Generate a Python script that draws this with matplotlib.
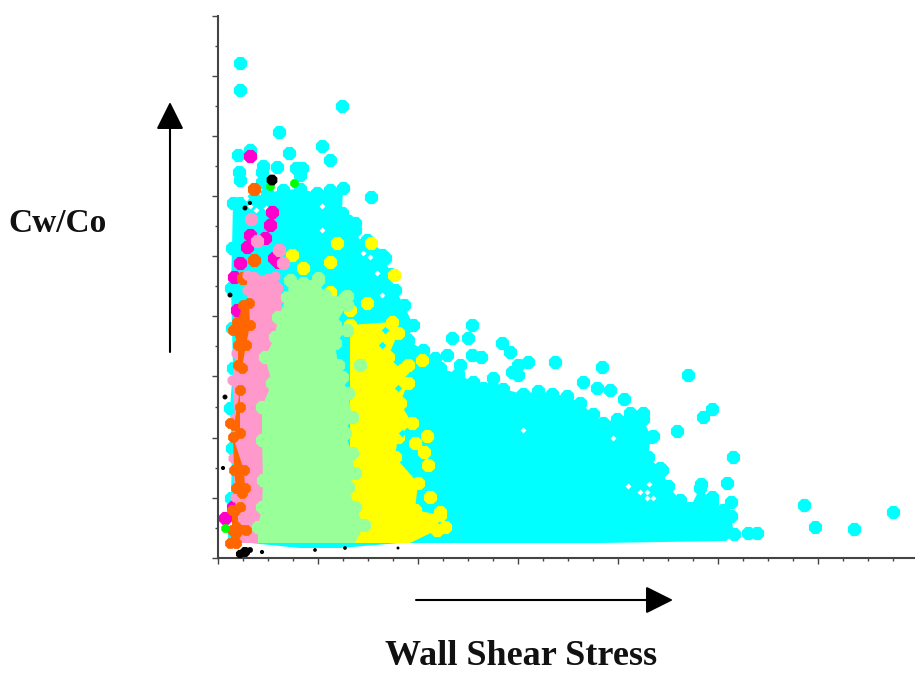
import matplotlib
matplotlib.use("Agg")
import matplotlib.pyplot as plt

# axis units are arbitrary, the original has no readable tick labels
cyan_x = [16, 13, 14, 12, 15, 14, 13, 14, 15, 22, 36, 49, 65, 82, 99, 112, 125, 124, 130, 137, 144, 155, 167, 172, 177, 186, 195, 190,
          205, 217, 222, 240, 255, 265, 275, 285, 305, 320, 334, 349, 362, 375, 385, 399, 412, 425, 433, 430, 444, 450, 462, 472, 482,
          494, 505, 513, 516, 508, 382, 282, 182, 122, 82, 32]
cyan_y = [22, 60, 110, 150, 190, 230, 270, 310, 355, 355, 360, 365, 368, 369, 365, 368, 370, 345, 337, 328, 313, 306, 300, 284, 268, 253, 233, 218,
          208, 200, 190, 184, 176, 170, 180, 169, 164, 167, 164, 162, 155, 144, 135, 139, 145, 139, 121, 101, 88, 72, 58, 50, 70,
          56, 48, 42, 24, 17, 15, 15, 15, 10, 10, 15]
CYAN_BOTTOM = 7
cyan_pts_x = [22, 22, 124, 61, 104, 112, 20, 32, 71, 21, 45, 59, 78, 44, 84, 153, 137, 82, 22, 44, 149, 164,
              234, 254, 250, 229, 284, 292, 254, 263, 242, 337, 310, 300, 294, 300, 384, 365, 379, 392, 406,
              470, 494, 485, 459, 515, 509, 513, 483, 494, 586, 597, 636, 675, 530, 539, 442, 425, 435]
cyan_pts_y = [495, 468, 452, 426, 412, 398, 403, 408, 405, 386, 392, 391, 390, 386, 390, 361, 335, 383, 378, 376, 318, 303,
              220, 233, 220, 203, 215, 206, 203, 201, 193, 196, 196, 193, 186, 183, 191, 176, 170, 168, 159,
              183, 149, 141, 127, 101, 75, 56, 74, 61, 53, 31, 29, 46, 25, 25, 90, 145, 122]

gap_x = [104, 104, 145, 152, 159, 164, 32, 28, 38, 48, 305, 372, 395, 410, 429, 429, 431, 422, 435, 441]
gap_y = [352, 328, 305, 301, 285, 263, 352, 360, 348, 350, 128, 160, 120, 72, 66, 60, 74, 66, 60, 110]

magenta_x = [32, 54, 52, 32, 47, 29, 22, 16, 56, 60, 72, 19, 7, 15]
magenta_y = [402, 346, 333, 323, 320, 311, 295, 281, 300, 296, 246, 248, 40, 51]

orange_pts_x = [36, 36, 25]
orange_pts_y = [369, 298, 280]

pink_x = [29, 57, 64, 64, 20, 17, 15, 17, 14, 18, 20, 30, 29]
pink_y = [283, 282, 260, 15, 15, 61, 100, 140, 178, 205, 235, 250, 268]
PINK_RIGHT = 2
pink_pts_x = [33, 39, 61, 65, 26, 35, 50, 58]
pink_pts_y = [339, 317, 308, 295, 40, 280, 278, 270]

orange_polys_x = [[19, 25, 31, 32, 28, 24, 20, 20, 15], [22, 16, 12, 22, 22], [15, 26, 27, 24, 18, 16], [22, 22, 28, 18, 12, 14, 14]]
orange_polys_y = [[236, 253, 255, 233, 213, 190, 193, 213, 228], [168, 133, 135, 125, 151], [121, 88, 70, 65, 70, 88], [51, 35, 28, 15, 15, 28, 48]]

yellow_x = [132, 174, 180, 170, 184, 190, 182, 194, 180, 177, 200, 197, 222, 219, 192, 132]
yellow_y = [233, 236, 225, 201, 188, 175, 155, 135, 121, 101, 75, 48, 43, 28, 15, 15]
yellow_pts_x = [209, 197, 206, 210, 212, 227, 119, 153, 112, 74, 85, 176, 112, 149, 132, 204, 190, 222]
yellow_pts_y = [122, 115, 106, 93, 61, 31, 315, 315, 296, 303, 290, 283, 266, 255, 248, 198, 193, 46]

hole_x = [167, 164, 180, 184]
hole_y = [228, 213, 170, 125]

green_x = [40, 44, 45, 44, 44, 54, 47, 57, 60, 69, 72, 100, 107, 127, 129, 117, 129, 117, 120, 124, 130, 134, 127, 134, 137, 130, 137, 146, 137, 40]
green_y = [31, 51, 78, 118, 151, 175, 201, 221, 241, 261, 278, 278, 263, 261, 253, 233, 228, 215, 193, 181, 165, 141, 125, 105, 85, 71, 51, 33, 15, 15]
green_pts_x = [142, 129, 85, 100]
green_pts_y = [193, 262, 275, 280]

lime_x = [52, 76, 7]
lime_y = [372, 375, 30]

black_x = [54, 27, 32, 7, 5, 12, 27, 22, 32, 44, 97, 127, 180]
black_y = [378, 350, 355, 161, 90, 263, 6, 4, 8, 6, 8, 10, 10]
black_s = [70, 14, 10, 14, 10, 14, 60, 40, 20, 10, 8, 8, 5]

x_major = [0, 100, 200, 300, 400, 500, 600]
x_minor = [25, 50, 75, 125, 150, 175, 225, 250, 275, 325, 350, 375, 425, 450, 475, 525, 550, 575, 625, 650, 675]
y_major = [0, 60, 120, 182, 242, 302, 362, 422, 482, 542]
y_minor = [30, 90, 151, 212, 272, 332, 392, 452, 512]

CYAN = "#00ffff"
MAGENTA = "#ff00cc"
ORANGE = "#ff6600"
PINK = "#ff99cc"
GREEN = "#99ff99"
YELLOW = "#ffff00"
BLOB = 105


def cluster(ax, xs, ys, px, py, color, z, bottom):
    # filled body, then round markers along its edge (the flat bottom run gets none)
    ax.fill(xs, ys, color=color, lw=0, zorder=z)
    ax.scatter(xs[:-bottom], ys[:-bottom], s=BLOB, marker="8", color=color, lw=0, zorder=z)
    ax.scatter(px, py, s=BLOB, marker="8", color=color, lw=0, zorder=z)


fig = plt.figure(figsize=(9.15, 6.75), dpi=100)
ax = fig.add_axes([218 / 915, 1 - 558 / 675, 697 / 915, 542 / 675])
ax.set_xlim(0, 697)
ax.set_ylim(0, 542)

cluster(ax, cyan_x, cyan_y, cyan_pts_x, cyan_pts_y, CYAN, 1, CYAN_BOTTOM)
ax.scatter(gap_x, gap_y, s=9, marker="D", color="white", lw=0, zorder=1.5)
ax.scatter(magenta_x, magenta_y, s=BLOB, marker="8", color=MAGENTA, lw=0, zorder=2)
ax.scatter(orange_pts_x, orange_pts_y, s=BLOB, marker="8", color=ORANGE, lw=0, zorder=3)
cluster(ax, yellow_x, yellow_y, yellow_pts_x, yellow_pts_y, YELLOW, 3, 2)
ax.scatter(hole_x, hole_y, s=14, marker="D", color=CYAN, lw=0, zorder=3.5)
ax.fill(pink_x, pink_y, color=PINK, lw=0, zorder=4)
ax.scatter(pink_x[:3] + pink_x[3 + PINK_RIGHT:], pink_y[:3] + pink_y[3 + PINK_RIGHT:], s=60, marker="8",
           color=PINK, lw=0, zorder=4)
for ox, oy in zip(orange_polys_x, orange_polys_y):
    ax.fill(ox, oy, color=ORANGE, lw=0, zorder=5)
    ax.scatter(ox, oy, s=70, marker="8", color=ORANGE, lw=0, zorder=5)
ax.scatter(pink_pts_x, pink_pts_y, s=BLOB, marker="8", color=PINK, lw=0, zorder=5.5)
cluster(ax, green_x, green_y, green_pts_x, green_pts_y, GREEN, 6, 2)
ax.scatter(lime_x, lime_y, s=45, marker="8", color="#00ff00", lw=0, zorder=7)
ax.scatter(black_x, black_y, s=black_s, marker="8", color="black", lw=0, zorder=8, clip_on=False)

for side in ["top", "right"]:
    ax.spines[side].set_visible(False)
for side in ["left", "bottom"]:
    ax.spines[side].set_linewidth(1.5)
    ax.spines[side].set_color("#444444")
ax.set_xticks(x_major)
ax.set_xticks(x_minor, minor=True)
ax.set_yticks(y_major)
ax.set_yticks(y_minor, minor=True)
ax.tick_params(which="major", length=4, width=1, color="#444444", labelbottom=False, labelleft=False)
ax.tick_params(which="minor", length=2.5, width=1, color="#444444")

arrow = dict(arrowstyle="-|>,head_length=1,head_width=0.5", mutation_scale=17, color="black", lw=1.5,
             shrinkA=0, shrinkB=0)
ax.annotate("", xy=(170 / 915, 1 - 102 / 675), xytext=(170 / 915, 1 - 352 / 675),
            xycoords="figure fraction", textcoords="figure fraction", arrowprops=arrow)
ax.annotate("", xy=(673 / 915, 1 - 600 / 675), xytext=(416 / 915, 1 - 600 / 675),
            xycoords="figure fraction", textcoords="figure fraction", arrowprops=arrow)

fig.text(58 / 915, 1 - 223 / 675, "Cw/Co", family="Liberation Serif", weight="bold", fontsize=24,
         ha="center", va="center", color="#111111")
fig.text(521 / 915, 1 - 665 / 675, "Wall Shear Stress", family="Liberation Serif", weight="bold", fontsize=26,
         ha="center", va="baseline", color="#111111")

fig.savefig("out.png", dpi=100)
